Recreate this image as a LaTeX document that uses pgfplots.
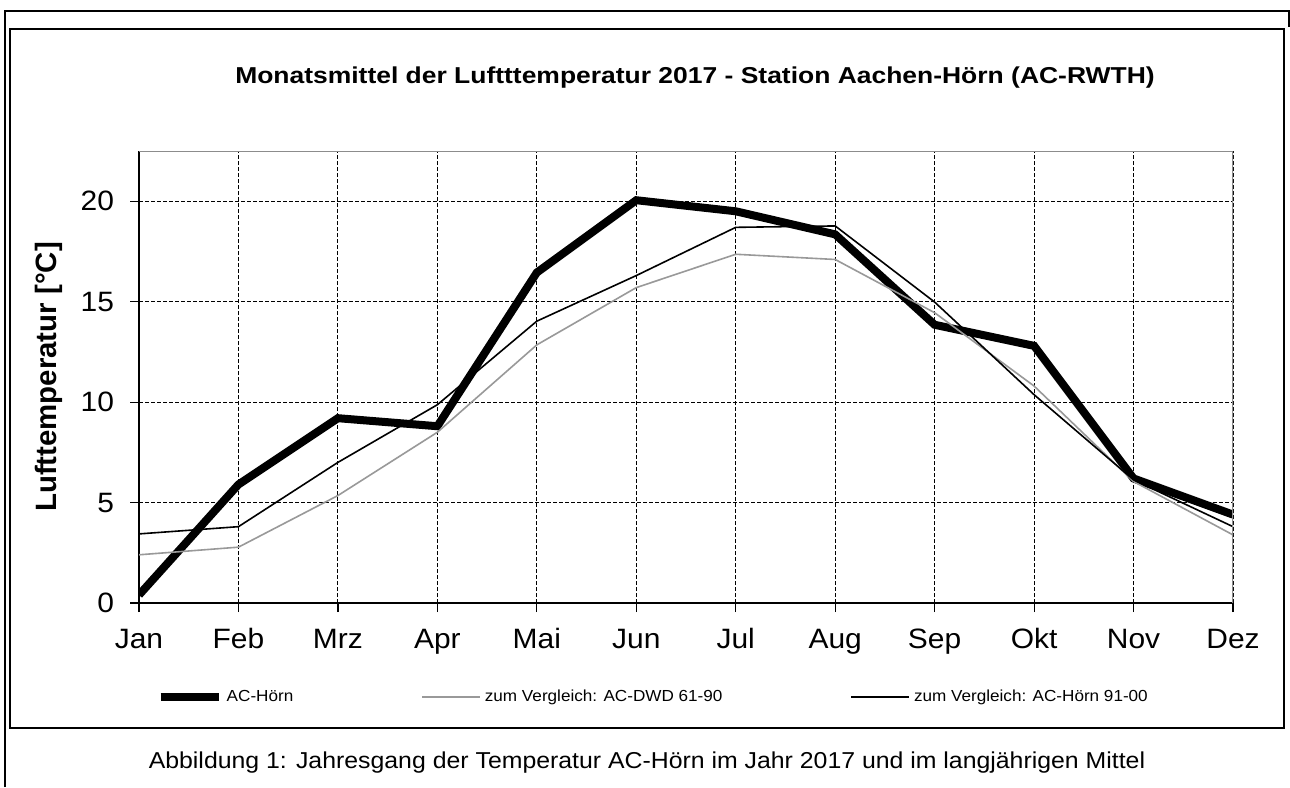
\documentclass[border=0pt]{standalone}
\usepackage{fontspec}
\setmainfont{Liberation Sans}[FakeStretch=1.07]
\newfontfamily\titlefont{Liberation Sans}[FakeStretch=1.15]
\newfontfamily\capfont{Liberation Sans}[FakeStretch=1.08]
\newfontfamily\ylabfont{Liberation Sans}
\usepackage{pgfplots}
\pgfplotsset{compat=1.18}
\definecolor{lgray}{RGB}{153,153,153}
\definecolor{bordergray}{RGB}{140,140,140}

\begin{document}
\begin{tikzpicture}
\useasboundingbox (0,0) rectangle (645pt,-393.5pt);
\fill[white] (0,0) rectangle (645pt,-393.5pt);
\draw[line width=1pt] (2.5pt,-393.5pt) -- (2.5pt,-5.5pt) -- (644.5pt,-5.5pt) -- (644.5pt,-13.5pt);
\draw[line width=1pt] (5pt,-14.5pt) rectangle (642pt,-364pt);
\node[anchor=base, inner sep=0pt, font=\titlefont\bfseries\fontsize{11.5}{13}\selectfont] at (347.5pt,-41.5pt) {Monatsmittel der Luftttemperatur 2017 - Station Aachen-Hörn (AC-RWTH)};
\node[anchor=base, inner sep=0pt, font=\capfont\fontsize{11.5}{13}\selectfont] at (323.5pt,-384pt) {Abbildung 1: Jahresgang der Temperatur AC-Hörn im Jahr 2017 und im langjährigen Mittel};
\begin{axis}[
  at={(69.5pt,-301.5pt)}, anchor=south west,
  scale only axis, width=547pt, height=226pt,
  xmin=0, xmax=11, ymin=0, ymax=22.5,
  xtick={0,...,11},
  xticklabels={Jan,Feb,Mrz,Apr,Mai,Jun,Jul,Aug,Sep,Okt,Nov,Dez},
  ytick={0,5,10,15,20},
  axis x line*=bottom, axis y line*=left,
  axis line style={-, black, line width=0.7pt},
  tick align=outside, major tick length=4.5pt,
  tick style={black, line width=0.6pt},
  grid=major,
  major grid style={black, line width=0.5pt, dash pattern=on 2pt off 1pt},
  ticklabel style={font=\fontsize{14}{16}\selectfont},
  xticklabel style={yshift=-4pt, text height=10.5pt, text depth=3pt},
  yticklabel style={xshift=-4.5pt},
  /pgf/number format/assume math mode=true,
  ylabel={Lufttemperatur [°C]},
  ylabel style={font=\ylabfont\bfseries\fontsize{14.7}{16}\selectfont, at={(axis description cs:-0.082,0.5)}, anchor=center},
  legend style={draw=none, fill=none, at={(0.471,-0.208)}, anchor=center,
    font=\fontsize{8}{10}\selectfont,
    /tikz/every even column/.append style={column sep=62pt}},
  legend columns=3,
  legend cell align=left,
  legend image code/.code={\draw[#1] (0pt,0pt) -- (29pt,0pt);},
]
\addplot[black, line width=4pt] coordinates {(0,0.4)(1,5.9)(2,9.2)(3,8.8)(4,16.45)(5,20.05)(6,19.5)(7,18.35)(8,13.85)(9,12.8)(10,6.2)(11,4.4)};
\addlegendentry{AC-Hörn}
\addplot[lgray, line width=0.8pt] coordinates {(0,2.4)(1,2.78)(2,5.35)(3,8.5)(4,12.85)(5,15.7)(6,17.36)(7,17.1)(8,14.45)(9,10.8)(10,6.05)(11,3.39)};
\addlegendentry{zum Vergleich: AC-DWD 61-90}
\addplot[black, line width=0.8pt] coordinates {(0,3.44)(1,3.8)(2,7.0)(3,9.87)(4,14.03)(5,16.3)(6,18.7)(7,18.77)(8,14.98)(9,10.37)(10,6.13)(11,3.8)};
\addlegendentry{zum Vergleich: AC-Hörn 91-00}
\draw[bordergray, line width=0.7pt] (rel axis cs:0,1) -- (rel axis cs:1,1) -- (rel axis cs:1,0);
\end{axis}
\end{tikzpicture}
\end{document}
